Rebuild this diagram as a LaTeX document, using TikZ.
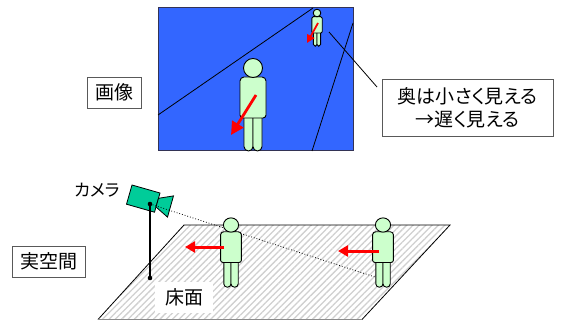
\documentclass[tikz,border=0pt]{standalone}
\usepackage{fontspec}
\setmainfont{Noto Sans CJK JP}[RawFeature=+palt]
\usetikzlibrary{arrows.meta,patterns.meta}
\definecolor{screenblue}{HTML}{3366FF}
\definecolor{screenedge}{HTML}{333355}
\definecolor{skin}{HTML}{CCFFCC}
\definecolor{camgreen}{HTML}{00CC99}
\definecolor{hatch}{HTML}{D0D0D0}
\tikzset{
  outline/.style={draw=black, line width=0.9pt},
  labelbox/.style={draw=black!65, line width=0.8pt, fill=white, inner sep=0pt,
    minimum height=31pt, font=\fontsize{19}{22}\selectfont},
  motion/.style={draw=red, line width=#1},
  pics/person/.style={code={
    % legs
    \draw[outline, fill=skin] (-9,48) -- (-9,78.5)
      arc[start angle=180, end angle=0, radius=4.5] -- (0,48) -- cycle;
    \draw[outline, fill=skin] (0,48) -- (0,78.5)
      arc[start angle=180, end angle=0, radius=4.5] -- (9,48) -- cycle;
    % torso
    \draw[outline, fill=skin] (-13,47) -- (-13,13)
      arc[start angle=180, end angle=270, radius=4] -- (9,9)
      arc[start angle=270, end angle=360, radius=4] -- (13,47)
      arc[start angle=0, end angle=90, radius=3] -- (-10,50)
      arc[start angle=90, end angle=180, radius=3] -- cycle;
    % head
    \draw[outline, fill=skin] (0,0) circle[radius=9.5];
  }}
}
\begin{document}
\begin{tikzpicture}[x=1pt, y=-1pt]
\useasboundingbox (0,0) rectangle (561,320);

% ---- camera image ----
\draw[fill=screenblue, draw=screenedge, line width=1pt] (158,8) rectangle (353,151);
\coordinate (edgeA1) at (158,115);
\coordinate (edgeA2) at (313,8);
\coordinate (edgeB1) at (312,151);
\coordinate (edgeB2) at (353,23);
\draw[line width=0.8pt] (edgeA1) -- (edgeA2);
\draw[line width=0.8pt] (edgeB1) -- (edgeB2);

\pic at (253,68) {person};
\pic[scale=0.4] at (317,13) {person};
\draw[motion=2.8pt, -{Triangle[length=13pt, width=13pt]}] (256,95) -- (231,135);
\draw[motion=1.8pt, -{Triangle[length=8pt, width=8pt]}] (318,23) -- (307,43);

\node[labelbox, minimum width=54pt] (imglabel) at (114,92.5) {画像};

% ---- remark ----
\node[labelbox, minimum width=171pt, minimum height=57pt, align=center,
      font=\fontsize{19}{23}\selectfont] (note) at (467.5,107.5)
  {奥は小さく見える\\→遅く見える};
\coordinate (far) at (329,32);
\coordinate (lead) at (377,87);
\draw[line width=0.8pt] (far) -- (lead);

% ---- real space ----
\node[labelbox, minimum width=73pt] (spacelabel) at (48.5,261.5) {実空間};

\fill[white] (184,225) -- (450,225) -- (362,319.5) -- (98,319.5) -- cycle;
\fill[pattern={Lines[angle=45, distance=4.5pt, line width=1.3pt]}, pattern color=hatch]
  (184,225) -- (450,225) -- (362,319.5) -- (98,319.5) -- cycle;
\draw[line width=0.8pt] (98,319.5) -- (184,225) -- (450,225) -- (362,319.5);
\draw[line width=0.8pt, black!45] (98,319.5) -- (362,319.5);

\node[fill=white, minimum width=58pt, minimum height=31pt, inner sep=0pt,
      font=\fontsize{19}{22}\selectfont] (floorlabel) at (184,297) {床面};

% camera
\draw[fill=camgreen, draw=black, line width=0.8pt]
  (132,185) -- (160,193) -- (154.5,212.2) -- (126.5,204.2) -- cycle;
\draw[fill=camgreen, draw=black, line width=0.8pt]
  (158.5,198.3) -- (173.5,195.9) -- (167.5,217.1) -- (156,207) -- cycle;
\node[font=\fontsize{17}{20}\selectfont] (camlabel) at (97,190) {カメラ};

\coordinate (cam) at (150,204);
\coordinate (foot) at (150,278);
\coordinate (sight) at (375,277);
\draw[line width=1.4pt] (cam) -- (foot);
\draw[line width=0.8pt, dotted] (cam) -- (sight);
\fill (cam) circle[radius=2.3];
\fill (foot) circle[radius=2.3];

\pic[xscale=0.8, yscale=0.75] at (231,225) {person};
\pic[xscale=0.8, yscale=0.75] at (383,225) {person};
\draw[motion=3pt, -{Triangle[length=10pt, width=11pt]}] (224,247) -- (185,247);
\draw[motion=3pt, -{Triangle[length=10pt, width=11pt]}] (379,251) -- (338,251);
\end{tikzpicture}
\end{document}
